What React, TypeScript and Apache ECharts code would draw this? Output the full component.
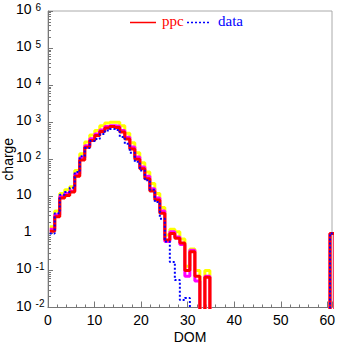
import React, { useEffect, useRef } from "react";
import * as echarts from "echarts";

// Histogram bins (DOM), left edge of the first bin and bin width in DOM units
const binEdgeStart = 0.37;
const binWidth = 1.075;

// 57 bins each
const ppcOuter = [
  1.5, 4, 12, 15, 18, 50, 140, 290, 450, 600, 800, 950, 1000, 1000, 800, 500, 280, 150, 80, 45,
  22, 12, 5, 0.9, 1.3, 1.1, 0.7, 0.13, 0.38, 0.1, 0, 0.1, 0, 0, 0, 0, 0, 0, 0, 0,
  0, 0, 0, 0, 0, 0, 0, 0, 0, 0, 0, 0, 0, 0, 0, 0, 1,
];
const ppcInner = [
  1.3, 3.2, 10, 12, 14, 40, 110, 230, 360, 480, 620, 760, 800, 780, 600, 390, 215, 115, 62, 35,
  16, 9, 4, 0.6, 1.1, 0.8, 0.5, 0.07, 0.35, 0.052, 0, 0.07, 0, 0, 0, 0, 0, 0, 0, 0,
  0, 0, 0, 0, 0, 0, 0, 0, 0, 0, 0, 0, 0, 0, 0, 0, 1,
];
const ppc = [
  1.15, 2.8, 9, 10.5, 13, 35, 95, 210, 320, 440, 560, 700, 760, 720, 540, 350, 190, 100, 55, 30,
  14, 8, 3.5, 0.66, 1.0, 0.74, 0.55, 0.1, 0.32, 0.07, 0, 0.065, 0, 0, 0, 0, 0, 0, 0, 0,
  0, 0, 0, 0, 0, 0, 0, 0, 0, 0, 0, 0, 0, 0, 0, 0, 1,
];
const data = [
  1.0, 3.5, 11, 13, 17, 45, 120, 200, 310, 350, 480, 600, 650, 620, 400, 260, 150, 85, 50, 27,
  15, 7, 2.5, 0.6, 0.17, 0.055, 0.016, 0.018, 0, 0, 0, 0, 0, 0, 0, 0, 0, 0, 0, 0,
  0, 0, 0, 0, 0, 0, 0, 0, 0, 0, 0, 0, 0, 0, 0, 0, 1,
];

const xMin = 0;
const xMax = 61;
const xInterval = 10;
const yMin = 0.01;
const yMax = 1e6;
const yExponents = [-2, -1, 0, 1, 2, 3, 4, 5, 6];

const FLOOR = 1e-5;
const FONT = "Liberation Sans";

function stepPoints(values: number[]) {
  const pts: number[][] = [];
  values.forEach((v, k) => {
    pts.push([binEdgeStart + k * binWidth, v > 0 ? v : FLOOR]);
  });
  const last = values[values.length - 1];
  pts.push([binEdgeStart + values.length * binWidth, last > 0 ? last : FLOOR]);
  pts.push([binEdgeStart + values.length * binWidth, FLOOR]);
  return pts;
}

function minorValues() {
  const out: number[] = [];
  for (let i = 0; i < yExponents.length - 1; i++) {
    const base = Math.pow(10, yExponents[i]);
    for (let m = 2; m <= 9; m++) out.push(m * base);
  }
  return out;
}

function yLabel(v: number) {
  const e = Math.round(Math.log10(v));
  if (e === 0) return "{h|0}{b|1}{sh|0}";
  if (e === 1) return "{b|10}{sh|0}";
  return "{b|10}{s|" + e + "}";
}

export default function App() {
  const ref = useRef<HTMLDivElement>(null);
  useEffect(() => {
    if (!ref.current) return;
    const chart = echarts.init(ref.current, null, { renderer: "svg" });
    const baseTok = { fontSize: 14, fontFamily: FONT, color: "#000", verticalAlign: "bottom", padding: [0, 0, 4, 0] };
    const supTok = { fontSize: 10, fontFamily: FONT, color: "#000", verticalAlign: "top", lineHeight: 10, padding: [0, 0, 14, 4] };
    const axisGrey = "#777";
    const option: any = {
      animation: false,
      backgroundColor: "#fff",
      grid: {
        left: 48,
        top: 11,
        width: 284,
        height: 296.5,
        show: true,
        borderColor: "#aaa",
        borderWidth: 1,
        outerBoundsMode: "none",
      },
      xAxis: {
        type: "value",
        min: xMin,
        max: xMax,
        interval: xInterval,
        position: "bottom",
        name: "DOM",
        nameLocation: "middle",
        nameGap: 22,
        nameMoveOverlap: false,
        nameTextStyle: { fontSize: 14, fontFamily: FONT, color: "#000" },
        axisLine: { show: true, lineStyle: { color: axisGrey, width: 1 } },
        axisTick: { show: true, inside: true, length: 6, lineStyle: { color: axisGrey } },
        minorTick: { show: true, splitNumber: 5, length: 3, lineStyle: { color: axisGrey } },
        axisLabel: { fontSize: 14, fontFamily: FONT, color: "#000", margin: 5, showMaxLabel: false },
        splitLine: { show: false },
        minorSplitLine: { show: false },
      },
      yAxis: [
        {
          type: "log",
          logBase: 10,
          min: yMin,
          max: yMax,
          interval: 1,
          position: "left",
          name: "charge",
          nameLocation: "middle",
          nameGap: 33,
          nameMoveOverlap: false,
          nameTextStyle: { fontSize: 14, fontFamily: FONT, color: "#000" },
          axisLine: { show: true, lineStyle: { color: axisGrey, width: 1 } },
          axisTick: { show: true, inside: true, length: 5, lineStyle: { color: axisGrey } },
          axisLabel: {
            formatter: yLabel,
            align: "left",
            margin: 32,
            rich: {
              b: baseTok,
              h: { ...baseTok, color: "transparent" },
              s: supTok,
              sh: { ...supTok, color: "transparent" },
            },
          },
          splitLine: { show: false },
        },
        {
          type: "log",
          logBase: 10,
          min: yMin,
          max: yMax,
          position: "left",
          axisLine: { show: false },
          axisTick: {
            show: true,
            inside: true,
            length: 3,
            lineStyle: { color: axisGrey },
            customValues: minorValues(),
          },
          axisLabel: { show: false },
          splitLine: { show: false },
        },
      ],
      series: [
        {
          type: "line",
          name: "ppc outer",
          data: stepPoints(ppcOuter),
          step: "end",
          symbol: "none",
          clip: true,
          lineStyle: { color: "#ffff00", width: 3 },
        },
        {
          type: "line",
          name: "ppc inner",
          data: stepPoints(ppcInner),
          step: "end",
          symbol: "none",
          clip: true,
          lineStyle: { color: "#ff00ff", width: 3 },
        },
        {
          type: "line",
          name: "ppc",
          data: stepPoints(ppc),
          step: "end",
          symbol: "none",
          clip: true,
          lineStyle: { color: "#ff0000", width: 3 },
        },
        {
          type: "line",
          name: "data",
          data: stepPoints(data),
          step: "end",
          symbol: "none",
          clip: true,
          lineStyle: { color: "#0000ff", width: 2, type: [2, 2] },
        },
      ],
      graphic: [
        { type: "line", shape: { x1: 130, y1: 22.5, x2: 156, y2: 22.5 }, style: { stroke: "#ff0000", lineWidth: 1.5 } },
        { type: "text", x: 162, y: 21, style: { text: "ppc", fill: "#ff0000", font: "15px 'Liberation Serif'", textVerticalAlign: "middle" } },
        { type: "line", shape: { x1: 187, y1: 22.5, x2: 211, y2: 22.5 }, style: { stroke: "#0000ff", lineWidth: 1.5, lineDash: [2, 2] } },
        { type: "text", x: 218, y: 21, style: { text: "data", fill: "#0000ff", font: "15px 'Liberation Serif'", textVerticalAlign: "middle" } },
      ],
    };
    chart.setOption(option);
    return () => chart.dispose();
  }, []);
  return (
    <div
      ref={ref}
      style={{ position: "fixed", left: 0, top: 0, width: 337, height: 344, background: "#fff" }}
    />
  );
}
